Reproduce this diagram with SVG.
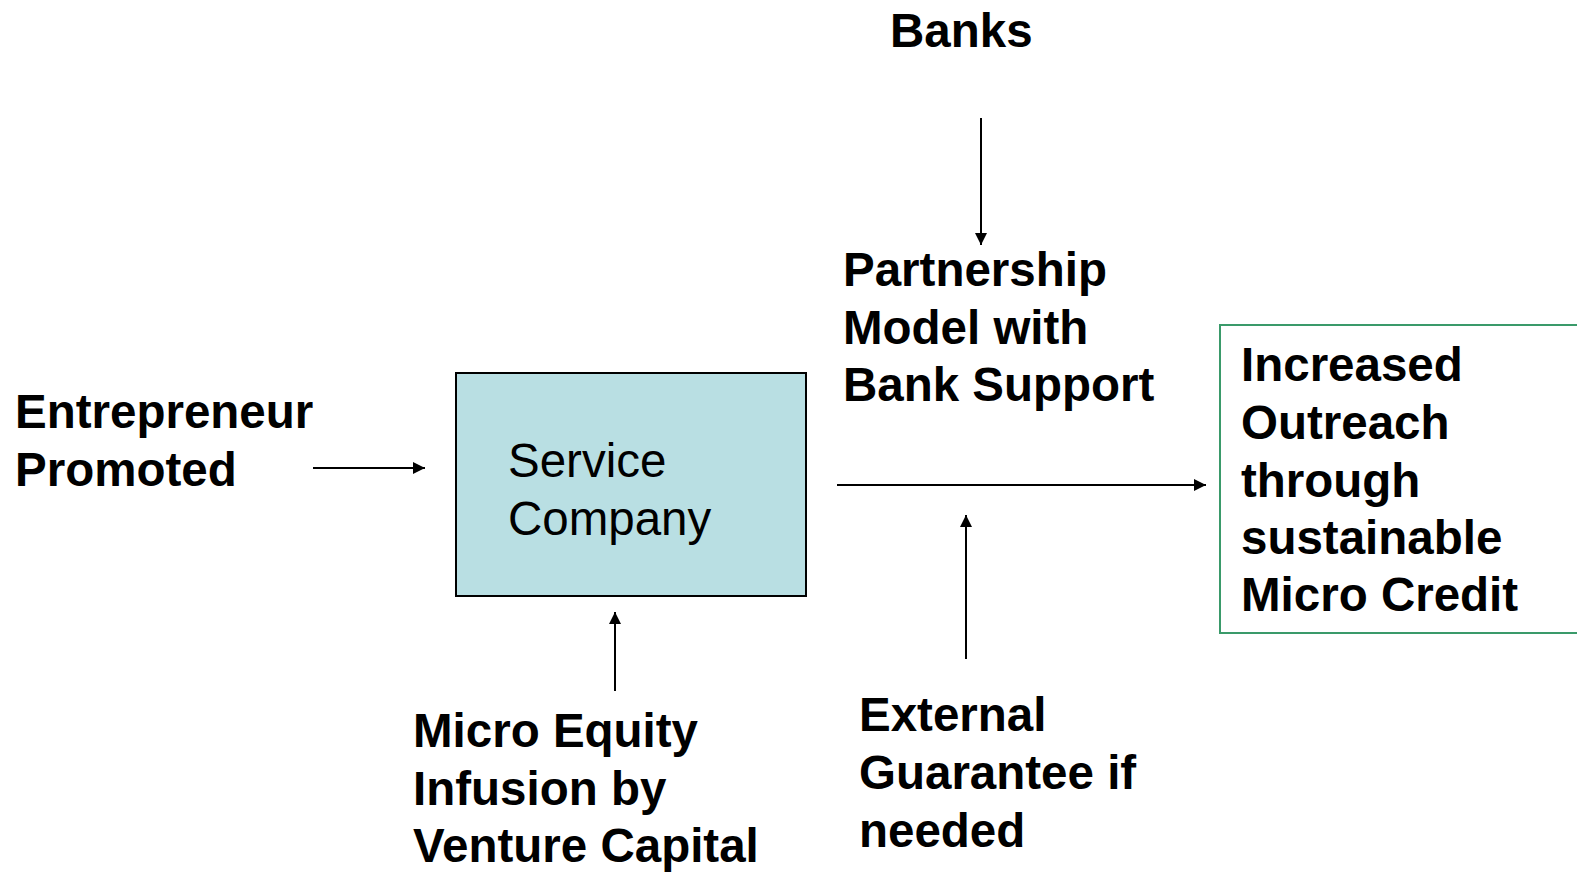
<svg xmlns="http://www.w3.org/2000/svg" width="1577" height="875" viewBox="0 0 1577 875">
<defs>
<style>
.b{font-family:"Liberation Sans",Arial,sans-serif;font-weight:bold;font-size:47.5px;fill:#000}
.r{font-family:"Liberation Sans",Arial,sans-serif;font-size:47.5px;fill:#000}
.c{stroke:#000;stroke-width:2;fill:none}
</style>
<marker id="ah" viewBox="0 0 10 10" refX="10" refY="5" markerWidth="13" markerHeight="12" markerUnits="userSpaceOnUse" orient="auto">
<path d="M0,0 L10,5 L0,10 Z" fill="#000"/>
</marker>
</defs>
<rect width="1577" height="875" fill="#fff"/>
<g id="banks"><text class="b" x="890" y="47">Banks</text></g>
<g id="partnership"><text class="b" x="843" y="286">Partnership</text><text class="b" x="843" y="344">Model with</text><text class="b" x="843" y="401">Bank Support</text></g>
<g id="entrepreneur"><text class="b" x="15" y="428">Entrepreneur</text><text class="b" x="15" y="486">Promoted</text></g>
<g id="service"><rect x="456" y="373" width="350" height="223" fill="#b9dfe3" stroke="#000" stroke-width="2"/><text class="r" x="508" y="477">Service</text><text class="r" x="508" y="535">Company</text></g>
<g id="outreach"><rect x="1220" y="325" width="370" height="308" fill="#fff" stroke="#3a9a6a" stroke-width="2"/><text class="b" x="1241" y="381">Increased</text><text class="b" x="1241" y="439">Outreach</text><text class="b" x="1241" y="497">through</text><text class="b" x="1241" y="554">sustainable</text><text class="b" x="1241" y="611">Micro Credit</text></g>
<g id="equity"><text class="b" x="413" y="747">Micro Equity</text><text class="b" x="413" y="805">Infusion by</text><text class="b" x="413" y="862">Venture Capital</text></g>
<g id="guarantee"><text class="b" x="859" y="731">External</text><text class="b" x="859" y="789">Guarantee if</text><text class="b" x="859" y="847">needed</text></g>
<g id="connectors">
<line class="c" x1="313" y1="468" x2="425" y2="468" marker-end="url(#ah)"/>
<line class="c" x1="981" y1="118" x2="981" y2="245" marker-end="url(#ah)"/>
<line class="c" x1="615" y1="691" x2="615" y2="612" marker-end="url(#ah)"/>
<line class="c" x1="837" y1="485" x2="1206" y2="485" marker-end="url(#ah)"/>
<line class="c" x1="966" y1="659" x2="966" y2="515" marker-end="url(#ah)"/>
</g>
</svg>
